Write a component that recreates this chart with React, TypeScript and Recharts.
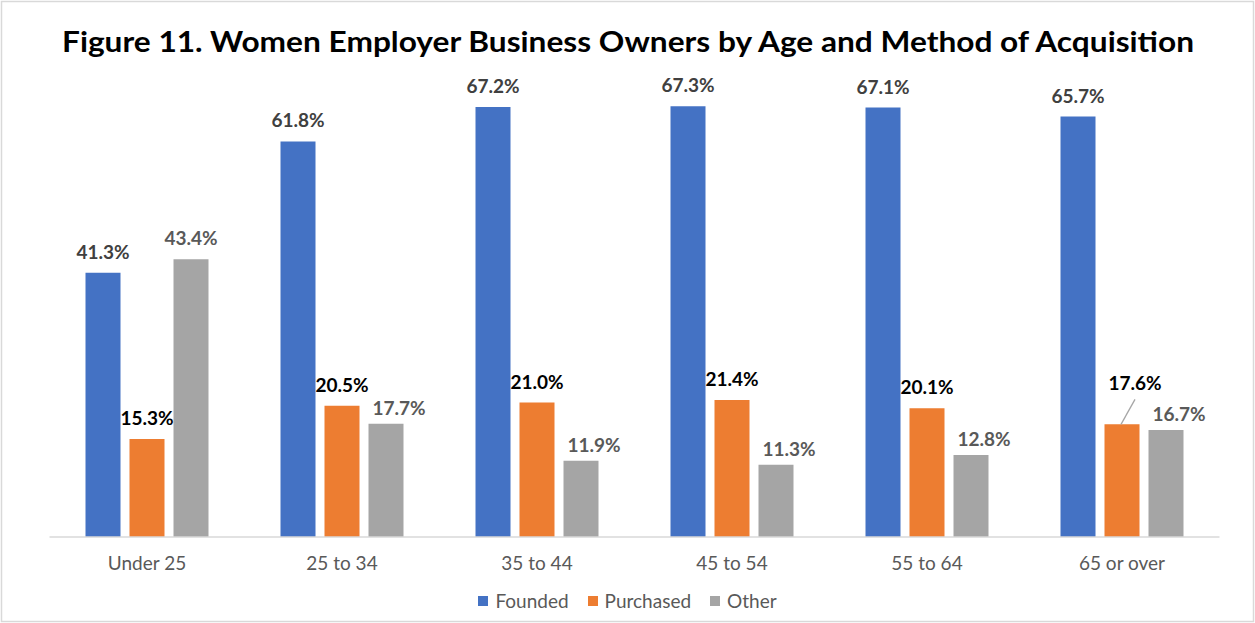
import React from "react";
import { BarChart, Bar, XAxis, YAxis, LabelList, Legend } from "recharts";

const categories = ["Under 25", "25 to 34", "35 to 44", "45 to 54", "55 to 64", "65 or over"];
const founded = [41.3, 61.8, 67.2, 67.3, 67.1, 65.7];
const purchased = [15.3, 20.5, 21.0, 21.4, 20.1, 17.6];
const other = [43.4, 17.7, 11.9, 11.3, 12.8, 16.7];
const seriesNames = ["Founded", "Purchased", "Other"];
const seriesColors = ["#4472C4", "#ED7D31", "#A5A5A5"];
const title = "Figure 11. Women Employer Business Owners by Age and Method of Acquisition";

const data = categories.map((c, i) => ({
  name: c,
  Founded: founded[i],
  Purchased: purchased[i],
  Other: other[i],
}));

const FONT = "Lato, 'Open Sans', sans-serif";

type LabelOpts = { fill: string; leaderIndex?: number; shiftFrom?: number };

const makeLabel = ({ fill, leaderIndex = -1, shiftFrom = 99 }: LabelOpts) => (props: any) => {
  const { x, y, width, value, index } = props;
  const cx = Number(x) + Number(width) / 2;
  const top = Number(y);
  const txt = `${Number(value).toFixed(1)}%`;
  if (index === leaderIndex) {
    return (
      <g>
        <line x1={cx - 1} y1={top} x2={cx + 13} y2={top - 25} stroke="#A6A6A6" strokeWidth={1.3} />
        <text x={cx + 13} y={top - 34} textAnchor="middle" fill={fill} fontFamily={FONT} fontSize={19} fontWeight={700}>
          {txt}
        </text>
      </g>
    );
  }
  const shifted = index >= shiftFrom;
  return (
    <text
      x={cx + (shifted ? 13 : 0)}
      y={top - (shifted ? 9 : 14)}
      textAnchor="middle"
      fill={fill}
      fontFamily={FONT}
      fontSize={19}
      fontWeight={700}
    >
      {txt}
    </text>
  );
};

const renderLegend = () => (
  <div style={{ display: "flex", justifyContent: "center", alignItems: "center", fontFamily: FONT, fontSize: 19, color: "#595959" }}>
    {seriesNames.map((n, i) => (
      <div key={n} style={{ display: "flex", alignItems: "center", marginRight: i < seriesNames.length - 1 ? 19 : 0 }}>
        <span style={{ display: "inline-block", width: 10, height: 10, background: seriesColors[i], marginRight: 7 }} />
        <span>{n}</span>
      </div>
    ))}
  </div>
);

export default function App() {
  return (
    <div style={{ position: "absolute", left: 0, top: 0, width: 1255, height: 623, background: "#fff" }}>
      <BarChart
        width={1255}
        height={623}
        data={data}
        margin={{ top: 25, right: 35.5, left: 49.5, bottom: 56 }}
        barCategoryGap={36}
        barGap={9}
      >
        <XAxis
          dataKey="name"
          height={30}
          axisLine={{ stroke: "#D9D9D9", strokeWidth: 1.5 }}
          tickLine={false}
          tickMargin={14}
          tick={{ fill: "#595959", fontFamily: FONT, fontSize: 19 }}
          interval={0}
        />
        <YAxis hide domain={[0, 80]} />
        <Legend layout="vertical" verticalAlign="middle" align="center" content={renderLegend} wrapperStyle={{ top: 589, left: 0, width: 1255 }} />
        <Bar dataKey="Founded" fill={seriesColors[0]} isAnimationActive={false}>
          <LabelList dataKey="Founded" content={makeLabel({ fill: "#404040" })} />
        </Bar>
        <Bar dataKey="Purchased" fill={seriesColors[1]} isAnimationActive={false}>
          <LabelList dataKey="Purchased" content={makeLabel({ fill: "#000000", leaderIndex: 5 })} />
        </Bar>
        <Bar dataKey="Other" fill={seriesColors[2]} isAnimationActive={false}>
          <LabelList dataKey="Other" content={makeLabel({ fill: "#595959", shiftFrom: 1 })} />
        </Bar>
      </BarChart>
      <svg width={1255} height={623} style={{ position: "absolute", left: 0, top: 0, pointerEvents: "none" }}>
        <rect x={1.5} y={1.5} width={1252} height={620} fill="none" stroke="#D9D9D9" strokeWidth={1.5} />
        <text x={628} y={52} textAnchor="middle" fontFamily={FONT} fontWeight={700} fontSize={28} fill="#000" textLength={1132} lengthAdjust="spacingAndGlyphs">
          {title}
        </text>
      </svg>
    </div>
  );
}
